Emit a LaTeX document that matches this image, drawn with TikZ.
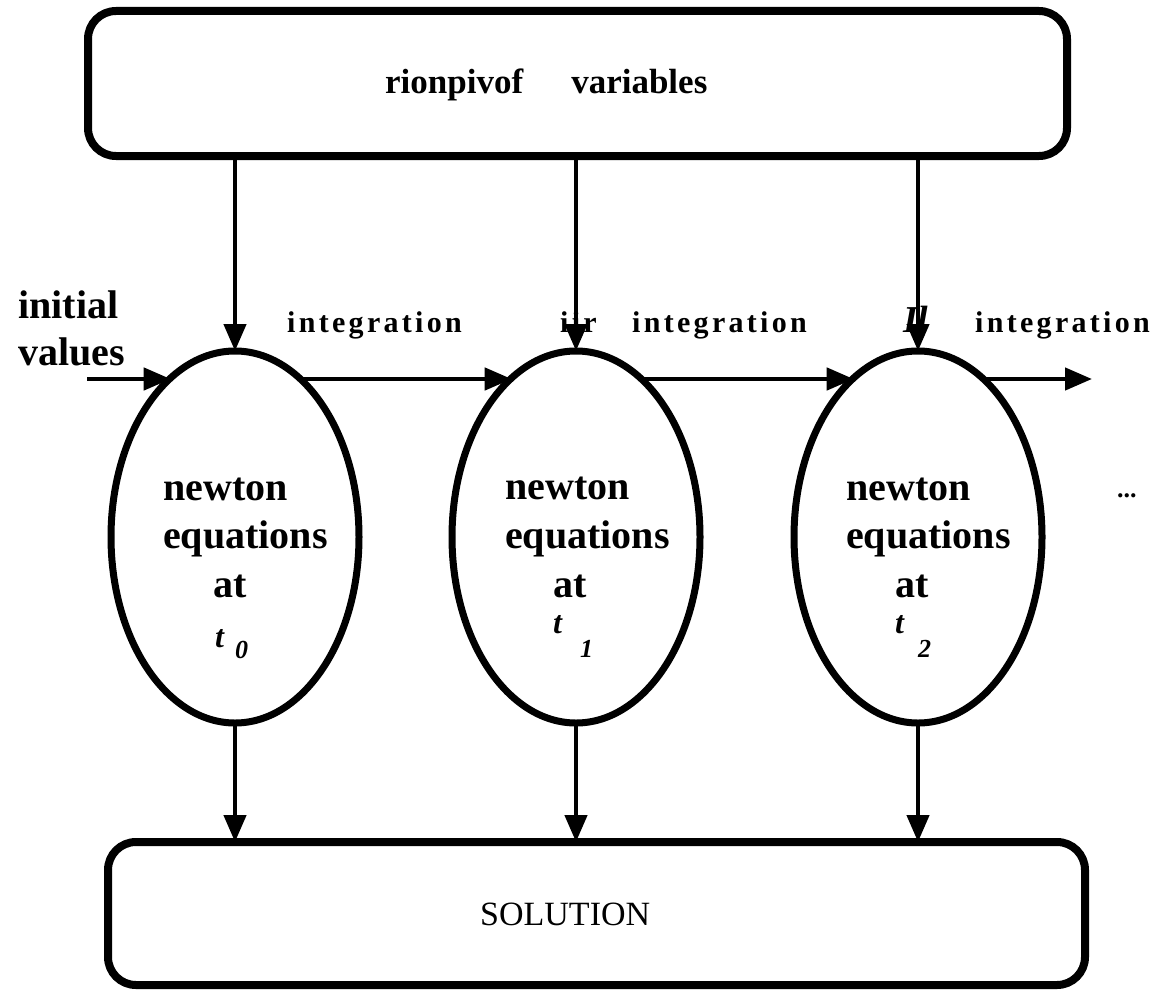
\documentclass[tikz,border=0pt]{standalone}
\usepackage{fontspec}
\setmainfont{Liberation Serif}
\newfontfamily\spacedfont[LetterSpace=11]{Liberation Serif}
\usetikzlibrary{arrows.meta}
\usetikzlibrary{shapes.geometric}

\tikzset{
    bigbox/.style={draw, line width=8pt, rounded corners=28pt, minimum width=979pt, minimum height=145pt, outer sep=0pt},
    eqn/.style={draw, ellipse, line width=7pt, minimum width=248pt, minimum height=372pt, outer sep=0pt},
    conn/.style={line width=4.5pt, -{Triangle[length=27pt,width=22pt]}},
    txt/.style={inner sep=0pt, anchor=base west, font=\fontsize{40}{47}\selectfont\bfseries},
    integ/.style={inner sep=0pt, anchor=base west, font=\fontsize{30}{36}\selectfont\spacedfont\bfseries},
    tvar/.style={inner sep=0pt, anchor=base west, font=\fontsize{32}{36}\selectfont\bfseries\itshape},
    tsub/.style={inner sep=0pt, anchor=base west, font=\fontsize{26}{30}\selectfont\bfseries\itshape},
}

\begin{document}
\begin{tikzpicture}[x=1pt,y=-1pt]
        \useasboundingbox (0,0) rectangle (1158,990);

        % boxes
        \node[bigbox] (vars) at (577.5,83.5) {};
        \node[bigbox, minimum width=977pt, minimum height=143pt] (sol) at (596.5,913.5) {};
        \node[txt, font=\fontsize{35}{40}\selectfont\bfseries] (varstxt) at (385,93) {rionpivof\hspace{48pt}variables};
        \node[txt, font=\fontsize{34}{40}\selectfont] (soltxt) at (480,925) {SOLUTION};

        % newton equations
        \node[eqn] (e0) at (235,537) {};
        \node[eqn] (e1) at (576,537) {};
        \node[eqn] (e2) at (918,537) {};

        \node[txt] (n0) at (163,500) {newton};
        \node[txt] (q0) at (163,548) {equations};
        \node[txt] (a0) at (213,597) {at};
        \node[tvar] (t0) at (215,647) {t};
        \node[tsub] (s0) at (235,658) {0};

        \node[txt] (n1) at (505,499) {newton};
        \node[txt] (q1) at (505,548) {equations};
        \node[txt] (a1) at (553,597) {at};
        \node[tvar] (t1) at (553,633) {t};
        \node[tsub] (s1) at (580,657) {1};

        \node[txt] (n2) at (846,500) {newton};
        \node[txt] (q2) at (846,548) {equations};
        \node[txt] (a2) at (895,597) {at};
        \node[tvar] (t2) at (895,633) {t};
        \node[tsub] (s2) at (918,657) {2};

        \node[txt, font=\fontsize{26}{30}\selectfont\bfseries] (dots) at (1117,497) {...};

        % time line
        \coordinate (start) at (87,379);
        \coordinate (stop) at (1092,379);
        \node[txt] (init) at (18,318) {initial};
        \node[txt] (vals) at (18,365) {values};
        \node[integ] (i0) at (287,332) {integration};
        \node[integ] (i1) at (632,332) {integration};
        \node[integ] (i2) at (975,332) {integration};
        \node[integ] (iir) at (560,332) {iir};
        \node[txt, font=\fontsize{38}{40}\selectfont\bfseries\itshape] (il) at (903,332) {Il};

        \draw[conn] (start) -- (e0.112.4 |- start);
        \draw[conn] (e0.67.6 |- start) -- (e1.112.4 |- start);
        \draw[conn] (e1.67.6 |- start) -- (e2.112.4 |- start);
        \draw[conn] (e2.67.6 |- start) -- (stop);

        \draw[conn] (vars.south -| e0.north) -- (e0.north);
        \draw[conn] (vars.south -| e1.north) -- (e1.north);
        \draw[conn] (vars.south -| e2.north) -- (e2.north);

        \draw[conn] (e0.south) -- (e0.south |- sol.north);
        \draw[conn] (e1.south) -- (e1.south |- sol.north);
        \draw[conn] (e2.south) -- (e2.south |- sol.north);
\end{tikzpicture}
\end{document}
